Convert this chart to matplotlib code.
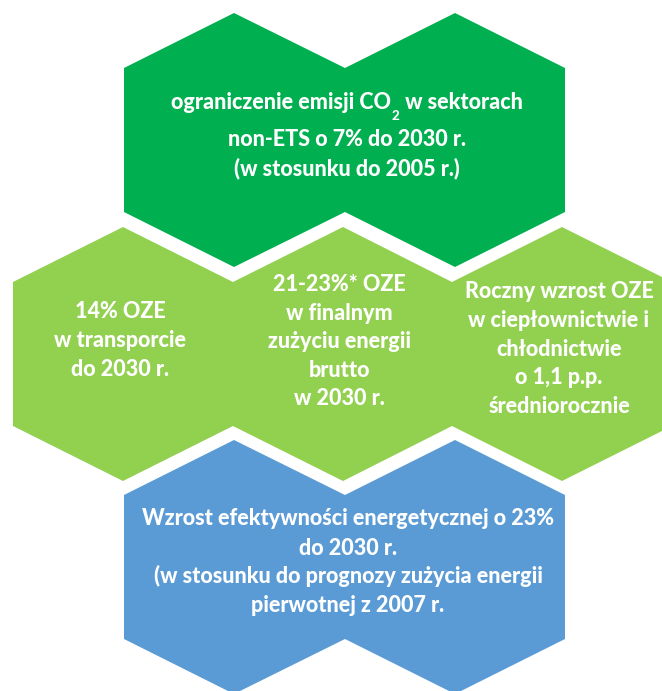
import numpy as np
import matplotlib
matplotlib.use("Agg")
import matplotlib.pyplot as plt
from matplotlib.patches import Polygon

# ------------------------------------------------------
# DATA
# ------------------------------------------------------
top_text = [("ograniczenie emisji CO", "2", " w sektorach"),
            "non-ETS o 7% do 2030 r.",
            "(w stosunku do 2005 r.)"]
mid_left_text = ["14% OZE", "w transporcie", "do 2030 r."]
mid_center_text = ["21-23%* OZE", "w finalnym", "zużyciu energii", "brutto", "w 2030 r."]
mid_right_text = ["Roczny wzrost OZE", "w ciepłownictwie i", "chłodnictwie",
                  "o 1,1 p.p.", "średniorocznie"]
bottom_text = ["Wzrost efektywności energetycznej o 23%",
               "do 2030 r.",
               "(w stosunku do prognozy zużycia energii",
               "pierwotnej z 2007 r."]

DARK_GREEN = "#00B050"
LIGHT_GREEN = "#92D050"
BLUE = "#5B9BD5"

# ------------------------------------------------------
# LAYOUT (pixel coords, y down)
# ------------------------------------------------------
W, H = 662, 691
HALF_W = 110      # half width of a hexagon
TIP = 127         # centre -> top/bottom tip
SHOULDER = 72     # centre -> vertical edge end
FS = 15.5
WEIGHT = "black"

rows = [
    (140, [234, 455], DARK_GREEN),
    (354, [123, 343, 562], LIGHT_GREEN),
    (567, [234, 455], BLUE),
]


def row_outline(xs, cy):
    # one merged outline for hexagons sitting side by side
    top, bottom = [], []
    for cx in xs:
        top += [(cx - HALF_W, cy - SHOULDER), (cx, cy - TIP)]
        bottom += [(cx - HALF_W, cy + SHOULDER), (cx, cy + TIP)]
    top.append((xs[-1] + HALF_W, cy - SHOULDER))
    bottom.append((xs[-1] + HALF_W, cy + SHOULDER))
    return top + bottom[::-1]


plt.rcParams["font.family"] = ["Lato", "DejaVu Sans"]

fig = plt.figure(figsize=(W / 100, H / 100), dpi=100)
ax = fig.add_axes([0, 0, 1, 1])
ax.set_xlim(0, W)
ax.set_ylim(H, 0)
ax.axis("off")

for cy, xs, color in rows:
    ax.add_patch(Polygon(row_outline(xs, cy), closed=True, facecolor=color,
                         edgecolor="none"))


def put_lines(lines, x, baselines, size=FS):
    for line, y in zip(lines, baselines):
        if isinstance(line, tuple):
            put_subscript_line(line, x, y, size)
            continue
        ax.text(x, y, line, color="white", fontsize=size, fontweight=WEIGHT,
                ha="center", va="baseline")


def put_subscript_line(parts, x, y, size):
    # text before, small lowered "2", text after - centred as one line
    renderer = fig.canvas.get_renderer()
    inv = ax.transData.inverted()
    pre, sub, post = parts
    t1 = ax.text(0, y, pre, color="white", fontsize=size, fontweight=WEIGHT,
                 ha="left", va="baseline")
    t2 = ax.text(0, y + 11, sub, color="white", fontsize=size * 0.62,
                 fontweight=WEIGHT, ha="left", va="baseline")
    t3 = ax.text(0, y, post, color="white", fontsize=size, fontweight=WEIGHT,
                 ha="left", va="baseline")
    widths = []
    for t in (t1, t2, t3):
        bb = t.get_window_extent(renderer)
        p0 = inv.transform((bb.x0, 0))[0]
        p1 = inv.transform((bb.x1, 0))[0]
        widths.append(p1 - p0)
    widths[1] += 2
    start = x - sum(widths) / 2
    t1.set_x(start)
    t2.set_x(start + widths[0] + 1)
    t3.set_x(start + widths[0] + widths[1])


put_lines(top_text, 347, [109, 146, 175])
put_lines(mid_left_text, 120, [318, 347, 376])
put_lines(mid_center_text, 339, [291, 320, 348, 377, 405])
put_lines(mid_right_text, 559, [298, 327, 356, 384, 413])
put_lines(bottom_text, 348, [525, 555, 583, 612])

fig.savefig("out.png", dpi=100, facecolor="white")
